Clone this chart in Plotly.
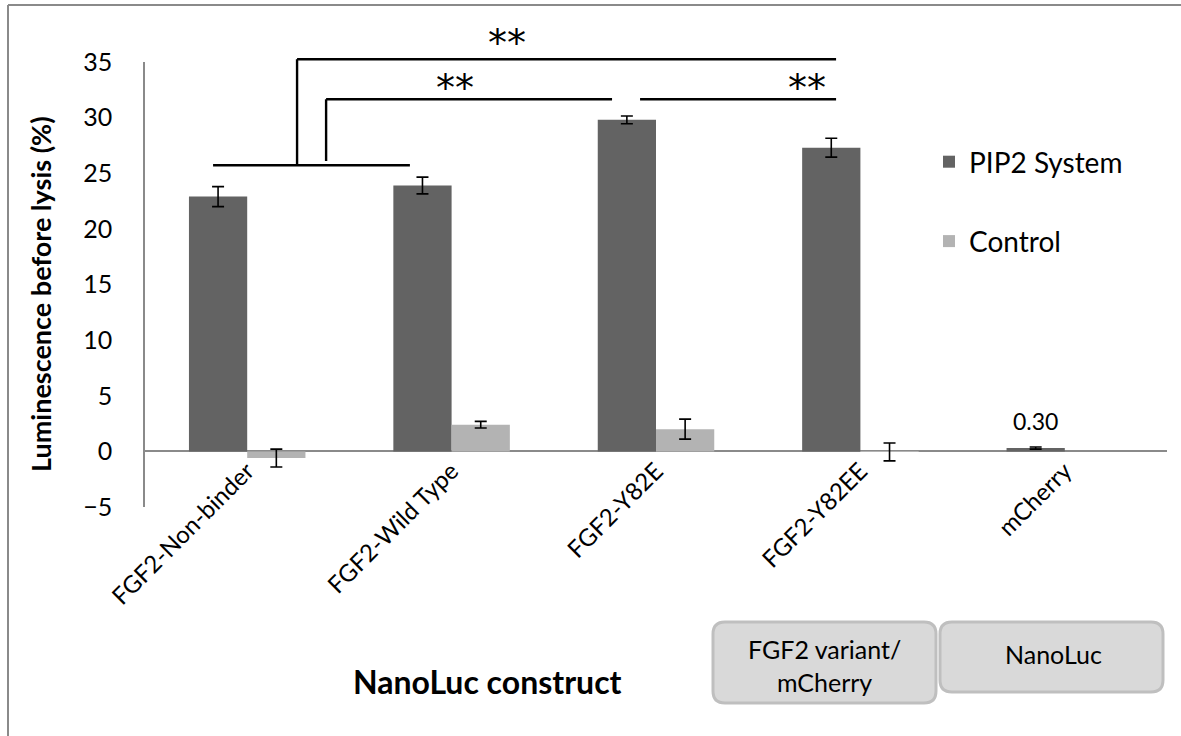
import plotly.graph_objects as go

# ---------------- data ----------------
categories = ["FGF2-Non-binder", "FGF2-Wild Type", "FGF2-Y82E", "FGF2-Y82EE", "mCherry"]
pip2_values = [22.9, 23.9, 29.8, 27.3, 0.30]
pip2_errors = [0.9, 0.75, 0.35, 0.85, 0.1]
control_values = [-0.6, 2.4, 2.0, -0.05, None]
control_errors = [0.8, 0.3, 0.9, 0.8, None]
bar_label = ["", "", "", "", "0.30"]

y_min, y_max, y_step = -5, 35, 5

# significance brackets: (x0, y0, x1, y1) in category / data units
bracket_segments = [
    (-0.167, 25.72, 0.796, 25.72),   # base line over first two groups
    (0.244, 25.72, 0.244, 35.25),    # outer vertical
    (0.244, 35.25, 2.881, 35.25),    # outer top line
    (0.386, 26.10, 0.386, 31.65),    # inner vertical
    (0.386, 31.65, 1.785, 31.65),    # inner line to Y82E
    (1.922, 31.65, 2.881, 31.65),    # Y82E to Y82EE line
]
star_labels = [(1.27, 36.73, "**"), (1.017, 32.68, "**"), (2.74, 32.68, "**")]

# ---------------- figure ----------------
W, H = 1181, 736
ML, MR, MT, MB = 145, 14, 62, 229
plot_w = W - ML - MR
plot_h = H - MT - MB

def py(v):
    return (v - y_min) / (y_max - y_min)

def px_x(p):
    return (p - ML) / plot_w

def px_y(p):
    return (H - MB - p) / plot_h

FONT = "Lato"
dark = "#636363"
light = "#b3b3b3"

fig = go.Figure()
fig.add_trace(go.Bar(
    x=categories, y=pip2_values, name="PIP2 System", legendgroup="a",
    marker=dict(color=dark, line=dict(width=0)),
    error_y=dict(type="data", array=pip2_errors, color="black", thickness=1.6, width=6),
))
fig.add_trace(go.Bar(
    x=categories, y=control_values, name="Control", legendgroup="b",
    marker=dict(color=light, line=dict(width=0)),
    error_y=dict(type="data", array=control_errors, color="black", thickness=1.6, width=6),
))

shapes = []
for (x0, y0, x1, y1) in bracket_segments:
    shapes.append(dict(type="line", xref="x", yref="paper", x0=x0, x1=x1, y0=py(y0), y1=py(y1),
                       line=dict(color="black", width=2.4)))

# outer chart border (top and left visible)
shapes.append(dict(type="line", xref="paper", yref="paper", x0=px_x(8), x1=px_x(1200),
                   y0=px_y(5), y1=px_y(5), line=dict(color="#8a8a8a", width=2)))
shapes.append(dict(type="line", xref="paper", yref="paper", x0=px_x(8), x1=px_x(8),
                   y0=px_y(5), y1=px_y(760), line=dict(color="#8a8a8a", width=2)))

def rounded_box(x0p, y0p, x1p, y1p, r=12):
    X0, X1 = px_x(x0p), px_x(x1p)
    Y0, Y1 = px_y(y0p), px_y(y1p)  # Y0 top, Y1 bottom
    rx, ry = r / plot_w, r / plot_h
    path = (f"M{X0+rx},{Y0} L{X1-rx},{Y0} Q{X1},{Y0} {X1},{Y0-ry} "
            f"L{X1},{Y1+ry} Q{X1},{Y1} {X1-rx},{Y1} L{X0+rx},{Y1} "
            f"Q{X0},{Y1} {X0},{Y1+ry} L{X0},{Y0-ry} Q{X0},{Y0} {X0+rx},{Y0} Z")
    return dict(type="path", xref="paper", yref="paper", path=path,
                fillcolor="#d9d9d9", line=dict(color="#bfbfbf", width=3))

shapes.append(rounded_box(713, 622, 936, 703))
shapes.append(rounded_box(940, 622, 1163, 692))

def ann(x, y, text, size, bold=False, angle=0, family=FONT):
    t = f"<b>{text}</b>" if bold else text
    return dict(x=px_x(x), y=px_y(y), xref="paper", yref="paper", text=t, showarrow=False,
                xanchor="center", yanchor="middle", textangle=angle,
                font=dict(family=family, size=size, color="black"))

annotations = []
for (x, y, t) in star_labels:
    annotations.append(dict(x=x, y=py(y), xref="x", yref="paper", text=t, showarrow=False,
                            xanchor="center", yanchor="middle",
                            font=dict(family="DejaVu Sans", size=38, color="black")))
# data label on mCherry bar
annotations.append(dict(x=4 - 0.1425, y=pip2_values[4], xref="x", yref="y", text=bar_label[4],
                        showarrow=False, xanchor="center", yanchor="bottom", yshift=11,
                        font=dict(family=FONT, size=23, color="black")))
annotations.append(ann(487, 681, "NanoLuc construct", 32, bold=True))
annotations.append(ann(40, 294, "Luminescence before lysis (%)", 27, bold=True, angle=-90))
annotations.append(ann(824, 665, "FGF2 variant/<br>mCherry", 25))
annotations.append(ann(1053, 654, "NanoLuc", 25))

fig.update_layout(
    width=W, height=H,
    margin=dict(l=ML, r=MR, t=MT, b=MB, autoexpand=False),
    paper_bgcolor="white", plot_bgcolor="white",
    barmode="group", bargap=0.43, bargroupgap=0,
    font=dict(family=FONT, size=20, color="black"),
    showlegend=True,
    legend=dict(x=px_x(929), y=px_y(137), xanchor="left", yanchor="top",
                font=dict(family=FONT, size=28, color="black"),
                tracegroupgap=40, bgcolor="rgba(0,0,0,0)"),
    shapes=shapes,
    annotations=annotations,
    xaxis=dict(tickangle=-45, showline=False, showgrid=False, ticks="",
               anchor="free", position=py(0),
               tickfont=dict(family=FONT, size=24, color="black")),
    yaxis=dict(range=[y_min, y_max], dtick=y_step, tick0=0, showgrid=False,
               showline=True, linecolor="#8a8a8a", linewidth=1.5, ticks="",
               zeroline=True, zerolinecolor="#8a8a8a", zerolinewidth=1.5,
               ticklabelstandoff=26,
               tickfont=dict(family=FONT, size=25, color="black")),
)

fig.write_html("out.html")
